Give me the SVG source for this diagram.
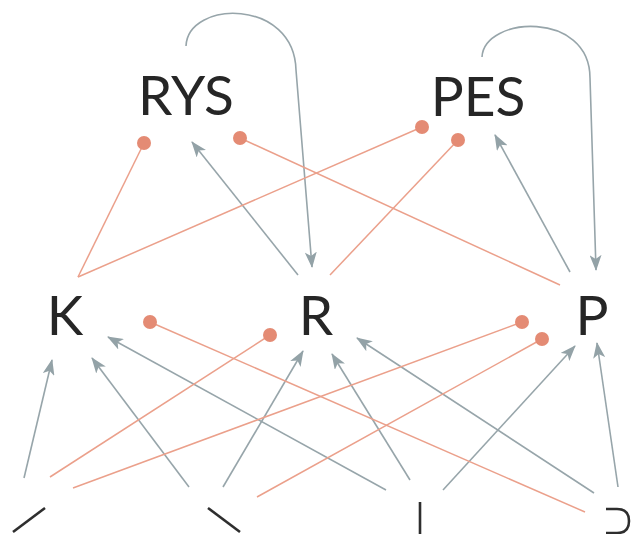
<svg xmlns="http://www.w3.org/2000/svg" width="631" height="534" viewBox="0 0 631 534">
<defs>
<marker id="ah" markerUnits="userSpaceOnUse" markerWidth="16" markerHeight="12" viewBox="0 0 16 12" refX="15" refY="6" orient="auto"><path d="M0,0 L16,6 L0,12 L4,6 Z" fill="#93a2a7"/></marker>
<marker id="dot" markerUnits="userSpaceOnUse" markerWidth="16" markerHeight="16" viewBox="0 0 16 16" refX="8" refY="8"><circle cx="8" cy="8" r="7" fill="#e48b74"/></marker>
</defs>
<style>
.lbl{font-family:Lato,"Open Sans","Liberation Sans",sans-serif;font-size:55px;fill:#262626;text-anchor:middle}
.g{stroke:#97a5aa;stroke-width:1.6;fill:none;marker-end:url(#ah)}
.o{stroke:#eba08b;stroke-width:1.5;fill:none;marker-end:url(#dot)}
.b{stroke:#2e2e2e;stroke-width:2.6;fill:none}
</style>
<rect width="631" height="534" fill="#ffffff"/>
<g id="connectors">
<path class="g" d="M186,46 C188,0 294,-2 296,70 L312,267"/>
<path class="g" d="M482,57 C484,16 590,10 590,78 L596,270"/>
<line class="g" x1="298" y1="275" x2="192" y2="142"/>
<line class="g" x1="570" y1="272" x2="495" y2="135"/>
<line class="g" x1="24" y1="478" x2="52" y2="360"/>
<line class="g" x1="189" y1="487" x2="92" y2="358"/>
<line class="g" x1="223" y1="487" x2="303" y2="351"/>
<line class="g" x1="386" y1="490" x2="108" y2="337"/>
<line class="g" x1="410" y1="480" x2="332" y2="354"/>
<line class="g" x1="443" y1="490" x2="575" y2="346"/>
<line class="g" x1="594" y1="493" x2="357" y2="338"/>
<line class="g" x1="618" y1="487" x2="597" y2="343"/>
<line class="o" x1="78" y1="277" x2="144" y2="143"/>
<line class="o" x1="78" y1="277" x2="422" y2="127"/>
<line class="o" x1="330" y1="275" x2="458" y2="140"/>
<line class="o" x1="560" y1="285" x2="240" y2="138"/>
<line class="o" x1="585" y1="512" x2="150" y2="322"/>
<line class="o" x1="50" y1="477" x2="270" y2="335"/>
<line class="o" x1="73" y1="488" x2="522" y2="322"/>
<line class="o" x1="257" y1="497" x2="542" y2="339"/>
</g>
<g id="RYS"><text class="lbl" x="186" y="115">RYS</text></g>
<g id="PES"><text class="lbl" x="478" y="116">PES</text></g>
<g id="K"><text class="lbl" x="65" y="335">K</text></g>
<g id="R"><text class="lbl" x="316" y="335">R</text></g>
<g id="P"><text class="lbl" x="592" y="335">P</text></g>
<g id="n1"><line class="b" x1="13" y1="532" x2="45" y2="508"/></g>
<g id="n2"><line class="b" x1="208" y1="508" x2="240" y2="532"/></g>
<g id="n3"><line class="b" x1="420" y1="502" x2="420" y2="534"/></g>
<g id="n4"><path class="b" d="M606,509 H617 Q629,509 629,521 Q629,533 617,533 H606"/></g>
</svg>
